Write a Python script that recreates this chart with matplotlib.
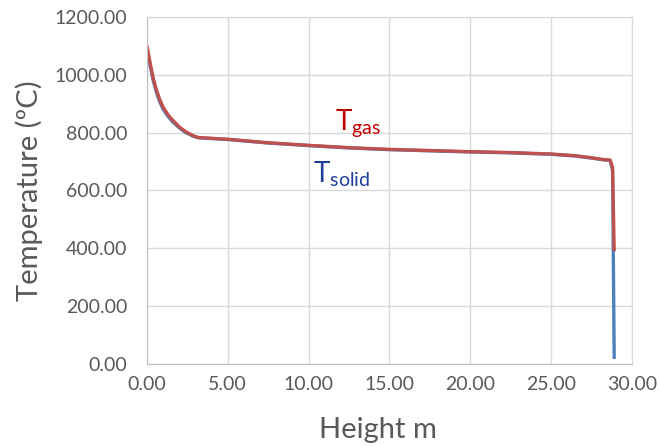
import matplotlib.pyplot as plt

plt.rcParams["font.family"] = ["Lato", "DejaVu Sans"]

# Profil entlang der Höhe
height = [0.0, 0.2, 0.4, 0.6, 0.8, 1.0, 1.3, 1.6, 2.0, 2.4, 2.8, 3.0, 3.2,
          5.0, 7.5, 10.0, 12.5, 15.0, 17.5, 20.0, 22.5, 25.0, 26.5, 27.5,
          28.2, 28.65, 28.8, 28.9]
t_gas = [1100, 1040, 985, 945, 913, 888, 862, 842, 820, 803, 791, 786, 783,
         777, 765, 756, 748, 742, 738, 734, 731, 726, 720, 713,
         707, 705, 680, 390]
t_solid = [1095, 1030, 977, 937, 905, 881, 856, 837, 816, 800, 789, 785, 782,
           776, 764, 755, 747, 741, 737, 733, 730, 725, 719, 712,
           706, 704, 670, 17]

x_ticks = [0, 5, 10, 15, 20, 25, 30]
y_ticks = [0, 200, 400, 600, 800, 1000, 1200]

fig = plt.figure(figsize=(6.59, 4.46), dpi=100)
ax = fig.add_axes([0.223, 0.184, 0.736, 0.778])

ax.plot(height, t_solid, color="#4F81BD", lw=2.4, solid_capstyle="butt")
ax.plot(height, t_gas, color="#C0504D", lw=2.4, solid_capstyle="butt")

ax.set_xlim(0, 30)
ax.set_ylim(0, 1200)
ax.set_xticks(x_ticks)
ax.set_yticks(y_ticks)
ax.set_xticklabels([f"{v:.2f}" for v in x_ticks])
ax.set_yticklabels([f"{v:.2f}" for v in y_ticks])
ax.tick_params(length=0, labelsize=14, labelcolor="#595959")
ax.tick_params(axis="y", pad=14)
ax.tick_params(axis="x", pad=9)
ax.grid(True, color="#D9D9D9", lw=1)
for s in ax.spines.values():
    s.set_color("#D9D9D9")
ax.spines["left"].set_color("#BFBFBF")
ax.spines["bottom"].set_color("#BFBFBF")

ax.set_xlabel("Height m", fontsize=21, color="#595959")
ax.set_ylabel("Temperature (ºC)", fontsize=21, color="#595959")
ax.xaxis.set_label_coords(0.476, -0.153)
ax.yaxis.set_label_coords(-0.214, 0.5)

# Beschriftung der Kurven
ax.text(11.63, 809, r"T$_{\mathregular{gas}}$", color="#C00000", fontsize=20)
ax.text(10.25, 630, r"T$_{\mathregular{solid}}$", color="#1F3D99", fontsize=20)

fig.savefig("out.png", dpi=100)
